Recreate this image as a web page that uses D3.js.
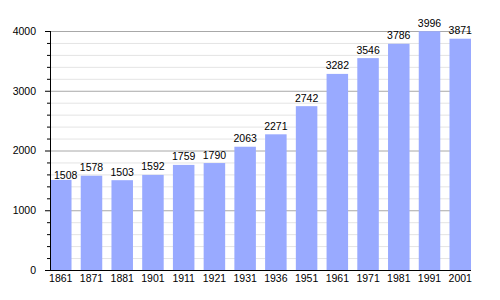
<!DOCTYPE html>
<html>
<head>
<meta charset="utf-8">
<script src="https://cdn.jsdelivr.net/npm/d3@7"></script>
<style>
body{margin:0;background:#fff;}
text{font-family:"Liberation Sans",Arial,sans-serif;}
</style>
</head>
<body>
<script>
// data
let years = ['1861','1871','1881','1901','1911','1921','1931','1936','1951','1961','1971','1981','1991','2001'];
let population = [1508,1578,1503,1592,1759,1790,2063,2271,2742,3282,3546,3786,3996,3871];
let yTicks = [0,1000,2000,3000,4000];
let yMinorTicks = d3.range(0,4001,200);

let width = 500, height = 300;
let margin = {top:31, right:29, bottom:30, left:50};
let svg = d3.select('body').append('svg').attr('width',width).attr('height',height);

// scales
let x = d3.scaleBand().domain(years).range([margin.left,width-margin.right]).paddingInner(0.3).paddingOuter(0);
let y = d3.scaleLinear().domain([0,4000]).range([height-margin.bottom,margin.top]);

// grid
svg.append('g').selectAll('line').data(yMinorTicks.filter(d=>d%1000!=0)).join('line')
  .attr('x1',margin.left).attr('x2',width-margin.right)
  .attr('y1',d=>y(d)+0.5).attr('y2',d=>y(d)+0.5)
  .attr('stroke','#e4e4e4');
svg.append('g').selectAll('line').data(yTicks.filter(d=>d>0)).join('line')
  .attr('x1',margin.left).attr('x2',width-margin.right)
  .attr('y1',d=>y(d)+0.5).attr('y2',d=>y(d)+0.5)
  .attr('stroke','#a8a8a8');

// bars
svg.append('g').selectAll('rect').data(population).join('rect')
  .attr('x',(d,i)=>x(years[i])).attr('width',x.bandwidth())
  .attr('y',d=>y(d)).attr('height',d=>y(0)-y(d))
  .attr('fill','#99aaff');

// value labels (a label that would run into the y axis is pushed right and down)
let labels = svg.append('g').selectAll('text').data(population).join('text')
  .attr('text-anchor','middle').attr('font-size','10.5px').attr('fill','#000')
  .text(d=>d);
labels.each(function(d,i){
  let w = this.getComputedTextLength();
  let cx = x(years[i])+x.bandwidth()/2, dy = 4.5;
  if (cx-w/2 < margin.left+4){ cx = margin.left+4+w/2; dy = 0.5; }
  d3.select(this).attr('x',cx).attr('y',y(d)-dy);
});

// y axis
let yAxis = svg.append('g').attr('transform',`translate(${margin.left},0)`)
  .call(d3.axisLeft(y).tickValues(yTicks).tickSize(5).tickPadding(9).tickFormat(d3.format('d')));
yAxis.select('.domain').remove();
yAxis.selectAll('text').attr('font-size','10.5px').attr('font-family','"Liberation Sans",Arial,sans-serif');
svg.append('g').selectAll('line').data(yMinorTicks.filter(d=>d%1000!=0)).join('line')
  .attr('x1',margin.left-3).attr('x2',margin.left)
  .attr('y1',d=>y(d)+0.5).attr('y2',d=>y(d)+0.5).attr('stroke','#000');
svg.append('line').attr('x1',margin.left+0.5).attr('x2',margin.left+0.5)
  .attr('y1',y(4000)).attr('y2',y(0)+1).attr('stroke','#000');

// x axis
let xAxis = svg.append('g').attr('transform',`translate(0,${height-margin.bottom})`)
  .call(d3.axisBottom(x).tickSize(0).tickPadding(5));
xAxis.select('.domain').remove();
xAxis.selectAll('text').attr('font-size','10.5px').attr('font-family','"Liberation Sans",Arial,sans-serif');
svg.append('line').attr('x1',margin.left).attr('x2',width-margin.right)
  .attr('y1',y(0)+0.5).attr('y2',y(0)+0.5).attr('stroke','#000');
</script>
</body>
</html>
